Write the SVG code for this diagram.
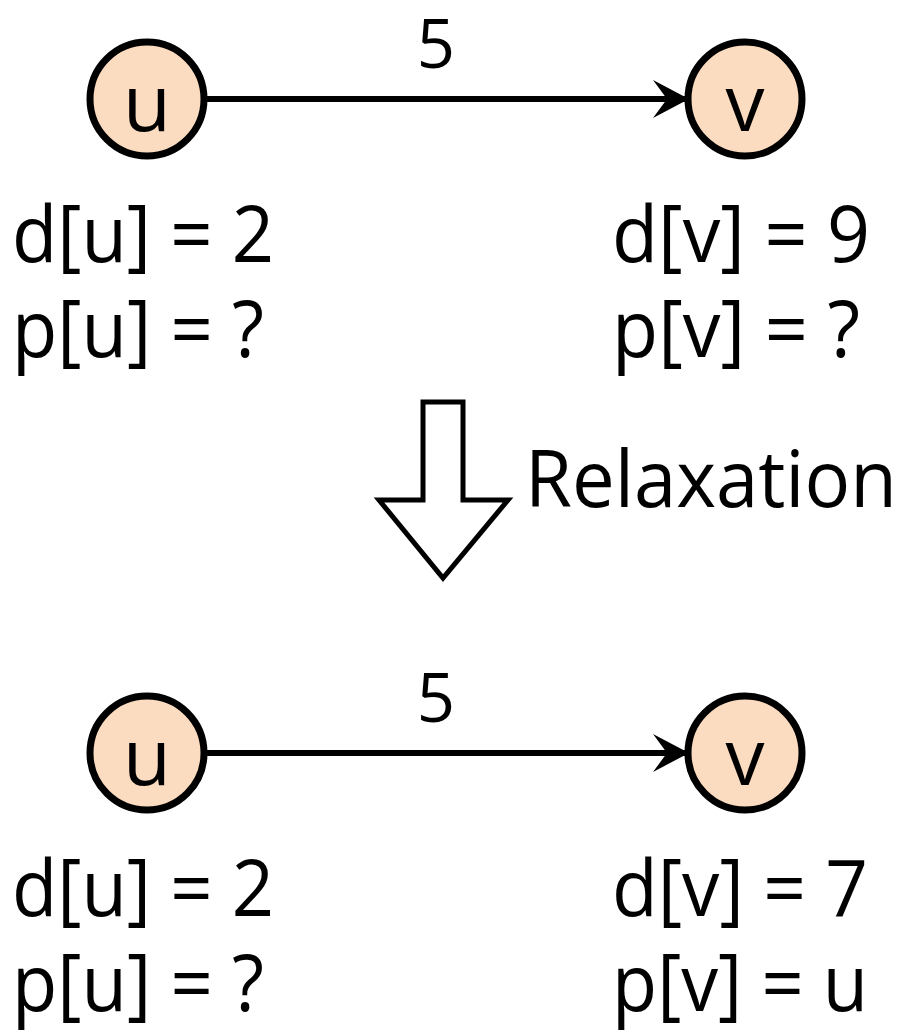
<svg xmlns="http://www.w3.org/2000/svg" width="897" height="1031" viewBox="0 0 897 1031">
<style>
.node circle{fill:#fcdcc0;stroke:#000;stroke-width:7}
text{font-family:"Open Sans","Noto Sans",sans-serif;font-size:78px;fill:#000}
.lbl{font-size:67px}
.edge{stroke:#000;stroke-width:6;fill:none}
</style>
<defs>
<marker id="ah" markerUnits="userSpaceOnUse" markerWidth="40" markerHeight="40" refX="38" refY="20" orient="auto" viewBox="0 0 40 40">
<path d="M2,1 L38,20 L2,39 L16,20 Z" fill="#000"/>
</marker>
</defs>
<g id="connectors">
<line class="edge" x1="207" y1="99" x2="689" y2="99" marker-end="url(#ah)"/>
<line class="edge" x1="207" y1="753" x2="689" y2="753" marker-end="url(#ah)"/>
<text class="lbl" x="436" y="68" text-anchor="middle">5</text>
<text class="lbl" x="436" y="722" text-anchor="middle">5</text>
</g>
<g id="u1" class="node"><circle cx="147" cy="99" r="57"/><text x="147" y="131" text-anchor="middle">u</text></g>
<g id="v1" class="node"><circle cx="745" cy="99" r="57"/><text x="745" y="131" text-anchor="middle">v</text></g>
<g id="u2" class="node"><circle cx="147" cy="753" r="57"/><text x="147" y="785" text-anchor="middle">u</text></g>
<g id="v2" class="node"><circle cx="745" cy="753" r="57"/><text x="745" y="785" text-anchor="middle">v</text></g>
<g id="labels1">
<text x="12" y="262" textLength="262" lengthAdjust="spacingAndGlyphs">d[u] = 2</text>
<text x="12" y="357" textLength="252" lengthAdjust="spacingAndGlyphs">p[u] = ?</text>
<text x="612" y="262" textLength="258" lengthAdjust="spacingAndGlyphs">d[v] = 9</text>
<text x="612" y="357" textLength="248" lengthAdjust="spacingAndGlyphs">p[v] = ?</text>
</g>
<g id="relax">
<path d="M423,402 H463 V500 H508 L443,578 L379,500 H423 Z" fill="#fff" stroke="#000" stroke-width="5"/>
<text x="525" y="507" textLength="372" lengthAdjust="spacingAndGlyphs">Relaxation</text>
</g>
<g id="labels2">
<text x="12" y="916" textLength="262" lengthAdjust="spacingAndGlyphs">d[u] = 2</text>
<text x="12" y="1011" textLength="252" lengthAdjust="spacingAndGlyphs">p[u] = ?</text>
<text x="612" y="916" textLength="256" lengthAdjust="spacingAndGlyphs">d[v] = 7</text>
<text x="612" y="1011" textLength="256" lengthAdjust="spacingAndGlyphs">p[v] = u</text>
</g>
</svg>
